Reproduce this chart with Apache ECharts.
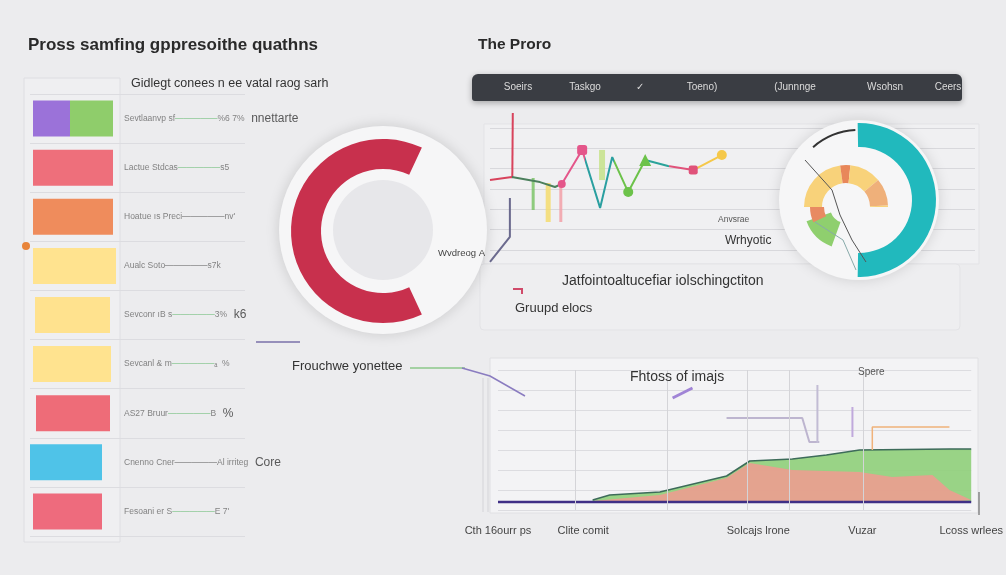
<!DOCTYPE html>
<html><head><meta charset="utf-8">
<script src="https://cdn.jsdelivr.net/npm/echarts@6/dist/echarts.min.js"></script>
<style>html,body{margin:0;padding:0;background:#ececee}#c{width:1006px;height:575px}</style>
</head><body><div id="c"></div>
<script>
// ---------- left: horizontal bars ----------
const barRows = ['r1','r2','r3','r4','r5','r6','r7','r8','r9'];
const barOffsets = [3,3,3,3,5,3,6,0,3];
const barPrimary = [37,80,80,83,75,78,74,72,69];
const barSecondary = [43,0,0,0,0,0,0,0,0];
const barColors = ['#9b72d9','#ee6f7b','#ef8c5c','#ffe38f','#ffe28e','#ffe38f','#ee6c78','#4fc3e8','#ee6b7d'];
const barSecondaryColor = '#8fcd6b';
const rowLabelA = ['Sevtlaanvp sf','Lactue Stdcas','Hoatue ıs Preci','Aualc Soto','Sevconr ıB s','Sevcanl & m','AS27 Bruur','Cnenno Cner','Fesoani er S'];
const rowLabelB = ['%6 7%','s5',"nv'",'s7k','3%','ₐ  %','B','Al irriteg',"E 7'"];
const rowLabelC = ['nnettarte','','','','k6','','%','Core',''];
const rowLineKind = ['g','g','d','d','g','g','g','d','g'];

// ---------- top right: line chart ----------
const lineX = [0,4.5,10.3,13.4,14.8,19.0,22.7,25.2,28.5,32.0,36.7,41.9,47.8];
const lineY = [34.4,35.9,33.4,31,32.5,49.2,20.7,45.7,28.5,44.3,41.3,39.3,46.7];
const lineMarker = ['none','none','none','none','circle','roundRect','none','none','circle','triangle','none','roundRect','circle'];
const lineMarkerSize = [0,0,0,0,8,10,0,0,10,12,0,9,10];
const lineBreaks = [4.6,14,19.5,25.5,32.5,37,42];
const lineColors = ['#d8435c','#4b7f5c','#e4568a','#2a9fa0','#6cc24a','#2aa39a','#e0527a','#f5c84a'];
const spikeX = [4.6,4.7], spikeY = [35.9,67.4];
const stickX = [8.9,12,14.6,23.1];
const stickTop = [35.4,33,32,49.2];
const stickBottom = [19.7,13.8,13.8,34.4];
const stickColors = ['#7cc46a','#f5dc6e','#f2a0a8','#c6e28a'];
const stickWidths = [3,5,3,6];
const purpleX = [4.1,4.1,0], purpleY = [25.6,6.4,-5.9];

// ---------- bottom right: area chart ----------
const areaLabels = ['Cth 16ourr ps','Clite comit','Solcajs lrone','Vuzar','Lcoss wrlees'];
const areaLabelPos = [0,18,55,77,100];
const greenX = [20,23.6,34.2,48.3,53.2,62.2,69.4,76.4,95.4,100];
const greenY = [5,7.5,9,17,24.5,25.5,27.5,30,30.5,30.5];
const redX = [20,34.2,48.3,53.2,62.2,76.4,83.3,91.8,95.4,100];
const redY = [4.5,7.5,16,23.5,20,19,16.5,17.5,10,5];
const baseX = [0,100], baseY = [4,4];
const vLines = [16.4,35.7,52.7,61.6,77.2];
const bracketX = [48.3,64.3,65.8,67.9], bracketY = [46,46,34,34];
const postX = [67.5,67.5], postY = [62.5,33.5];
const lilacX = [74.9,74.9], lilacY = [51.5,36.5];
const orangeX = [79.1,79.1,95.4], orangeY = [30,41.5,41.5];
const dashX = [36.9,41.1], dashY = [56,61];

// ---------- donuts ----------
const leftRing = [230,130];       // red arc degrees, gap
const tealRing = [182,178];
const yellowRing = [82,14,44,38,2,180];
const yellowColors = ['#f8d27a','#e8875a','#f8d27a','#efb07a','#f8d27a','rgba(0,0,0,0)'];
const greenPatch = [50,310];
const orangePatch = [25,335];
const darkArc = [38,322];

const T = 'rgba(0,0,0,0)';
const FONT = 'Liberation Sans, Arial, sans-serif';

const series = [];
// bars
series.push({type:'bar',xAxisIndex:0,yAxisIndex:0,stack:'r',silent:true,barWidth:36,itemStyle:{color:T},data:barOffsets});
series.push({type:'bar',xAxisIndex:0,yAxisIndex:0,stack:'r',silent:true,barWidth:36,
  data:barPrimary.map((v,i)=>({value:v,itemStyle:{color:barColors[i]}}))});
series.push({type:'bar',xAxisIndex:0,yAxisIndex:0,stack:'r',silent:true,barWidth:36,itemStyle:{color:barSecondaryColor},data:barSecondary});
series.push({type:'scatter',xAxisIndex:0,yAxisIndex:0,silent:true,symbolSize:0,
  data:barRows.map((r,i)=>[94,i]),
  label:{show:true,position:'right',distance:0,fontFamily:FONT,
    formatter:(p)=>{const i=p.dataIndex;return `{s|${rowLabelA[i]}}{${rowLineKind[i]}|—————}{s|${rowLabelB[i]}}` + (rowLabelC[i]?`  {b|${rowLabelC[i]}}`:'');},
    rich:{s:{fontSize:8.5,color:'#666',fontFamily:FONT},g:{fontSize:8.5,color:'#5fb86a',fontFamily:FONT},d:{fontSize:8.5,color:'#555',fontFamily:FONT},b:{fontSize:12,color:'#333',fontFamily:FONT}}}});

// top line chart
series.push({type:'line',xAxisIndex:1,yAxisIndex:1,silent:true,clip:false,symbol:'none',lineStyle:{width:2,color:'#6b6a8e'},
  data:purpleX.map((x,i)=>[x,purpleY[i]])});
stickX.forEach((x,i)=>{
  series.push({type:'line',xAxisIndex:1,yAxisIndex:1,silent:true,symbol:'none',lineStyle:{width:stickWidths[i],color:stickColors[i],opacity:0.85},
    data:[[x,stickTop[i]],[x,stickBottom[i]]]});
});
series.push({type:'line',xAxisIndex:1,yAxisIndex:1,silent:true,clip:false,symbol:'none',lineStyle:{width:2,color:'#d8435c'},
  data:spikeX.map((x,i)=>[x,spikeY[i]])});
const mainIdx = series.length;
series.push({type:'line',xAxisIndex:1,yAxisIndex:1,silent:true,clip:false,showSymbol:true,lineStyle:{width:2},
  data:lineX.map((x,i)=>({value:[x,lineY[i]],symbol:lineMarker[i],symbolSize:lineMarkerSize[i]}))});

// bottom area chart
series.push({type:'line',xAxisIndex:2,yAxisIndex:2,silent:true,symbol:'none',
  lineStyle:{width:1.5,color:'#3d6b5a'},areaStyle:{color:'#8fcf7a',opacity:0.9,origin:4},
  data:greenX.map((x,i)=>[x,greenY[i]])});
series.push({type:'line',xAxisIndex:2,yAxisIndex:2,silent:true,symbol:'none',
  lineStyle:{width:0},areaStyle:{color:'#f19a90',opacity:0.85,origin:4},
  data:redX.map((x,i)=>[x,redY[i]])});
series.push({type:'line',xAxisIndex:2,yAxisIndex:2,silent:true,symbol:'none',lineStyle:{width:2.5,color:'#3f2f86'},
  data:baseX.map((x,i)=>[x,baseY[i]]),
  markLine:{silent:true,symbol:'none',label:{show:false},lineStyle:{color:'#d4d4d8',type:'solid',width:1},
    data:vLines.map(v=>({xAxis:v}))}});
series.push({type:'line',xAxisIndex:2,yAxisIndex:2,silent:true,symbol:'none',lineStyle:{width:2,color:'#bdb5cf'},data:bracketX.map((x,i)=>[x,bracketY[i]])});
series.push({type:'line',xAxisIndex:2,yAxisIndex:2,silent:true,symbol:'none',lineStyle:{width:2,color:'#c2bcd4'},data:postX.map((x,i)=>[x,postY[i]])});
series.push({type:'line',xAxisIndex:2,yAxisIndex:2,silent:true,symbol:'none',lineStyle:{width:2,color:'#c0a9dc'},data:lilacX.map((x,i)=>[x,lilacY[i]])});
series.push({type:'line',xAxisIndex:2,yAxisIndex:2,silent:true,symbol:'none',lineStyle:{width:1.5,color:'#f0b27a'},data:orangeX.map((x,i)=>[x,orangeY[i]])});
series.push({type:'line',xAxisIndex:2,yAxisIndex:2,silent:true,symbol:'none',lineStyle:{width:3,color:'#a084d6'},data:dashX.map((x,i)=>[x,dashY[i]])});

// donuts
const pieBase = {type:'pie',silent:true,label:{show:false},labelLine:{show:false},emphasis:{disabled:true}};
series.push(Object.assign({},pieBase,{center:[383,230],radius:[0,104],itemStyle:{color:'#f6f6f7',shadowBlur:14,shadowColor:'rgba(0,0,0,0.15)'},data:[1]}));
series.push(Object.assign({},pieBase,{center:[383,230],radius:[0,50],itemStyle:{color:'#e7e7ea'},data:[1]}));
series.push(Object.assign({},pieBase,{center:[383,231],radius:[62,92],startAngle:65,clockwise:false,
  data:leftRing.map((v,i)=>({value:v,itemStyle:{color:i===0?'#c8304d':T}}))}));
series.push(Object.assign({},pieBase,{center:[859,200],radius:[0,80],itemStyle:{color:'#f6f6f7',shadowBlur:14,shadowColor:'rgba(0,0,0,0.13)'},data:[1]}));
series.push(Object.assign({},pieBase,{center:[859,200],radius:[53,77],startAngle:91,clockwise:true,
  data:tealRing.map((v,i)=>({value:v,itemStyle:{color:i===0?'#21b9bd':T}}))}));
series.push(Object.assign({},pieBase,{center:[859,200],radius:[69,71],startAngle:131,clockwise:true,
  data:darkArc.map((v,i)=>({value:v,itemStyle:{color:i===0?'#333':T}}))}));
series.push(Object.assign({},pieBase,{center:[846,207],radius:[24,42],startAngle:180,clockwise:true,
  data:yellowRing.map((v,i)=>({value:v,itemStyle:{color:yellowColors[i]}}))}));
series.push(Object.assign({},pieBase,{center:[846,207],radius:[16,42],startAngle:250,clockwise:true,
  data:greenPatch.map((v,i)=>({value:v,itemStyle:{color:i===0?'#8fcf6e':T}}))}));
series.push(Object.assign({},pieBase,{center:[846,207],radius:[22,36],startAngle:205,clockwise:true,
  data:orangePatch.map((v,i)=>({value:v,itemStyle:{color:i===0?'#e88a62':T}}))}));

const txt = (x,y,text,size,opts)=>Object.assign({type:'text',x,y,z:100,style:Object.assign({text,fontSize:size,fontFamily:FONT,fill:'#333',textVerticalAlign:'middle'},opts||{})});
const ln = (pts,color,w)=>({type:'polyline',z:50,shape:{points:pts},style:{stroke:color,lineWidth:w||1.5,fill:null}});
const tabNames = ['Soeirs','Taskgo','✓','Toeno)','(Junnnge','Wsohsn','Ceers'];
const tabPos = [518,585,640,702,795,885,948];

const graphic = [
  {type:'rect',z:0,shape:{x:24,y:78,width:96,height:464},style:{fill:'#efeff1',stroke:'#dedee2'}},
  {type:'rect',z:0,shape:{x:484,y:124,width:495,height:140},style:{fill:'#f0f0f2',stroke:'#e3e3e6'}},
  {type:'rect',z:0,shape:{x:480,y:264,width:480,height:66,r:4},style:{fill:'#eeeef0',stroke:'#e3e3e6'}},
  {type:'rect',z:0,shape:{x:490,y:358,width:488,height:155},style:{fill:'#f3f3f5',stroke:'#e0e0e3'}},
  {type:'rect',z:60,shape:{x:472,y:74,width:490,height:27,r:[6,6,3,3]},style:{fill:'#3a3d43',shadowBlur:6,shadowColor:'rgba(0,0,0,0.3)',shadowOffsetY:2}},
  txt(28,45,'Pross samfing gppresoithe quathns',17,{fontWeight:'bold',fill:'#2a2a2a'}),
  txt(131,84,'Gidlegt conees n ee vatal raog sarh',12.5),
  txt(438,253,'Wvdreog A',9.5,{fill:'#444'}),
  txt(292,366,'Frouchwe yonettee',13),
  txt(478,45,'The Proro',15.5,{fontWeight:'bold',fill:'#2a2a2a'}),
  txt(718,220,'Anvsrae',8.5,{fill:'#555'}),
  txt(725,241,'Wrhyotic',12),
  txt(562,281,'Jatfointoaltucefiar iolschingctiton',14),
  txt(515,308,'Gruupd elocs',13),
  txt(630,377,'Fhtoss of imajs',14),
  txt(858,372,'Spere',10,{fill:'#555'}),
  ...tabNames.map((n,i)=>txt(tabPos[i],87,n,10,{fill:'#dcdcdc',textAlign:'center'})),
  ln([[256,342],[300,342]],'#7a70a8'),
  ln([[410,368],[465,368]],'#8cc98a'),
  ln([[462,368],[490,376],[525,396]],'#8a7cc0'),
  ln([[513,289],[522,289],[522,294]],'#d04a6a',2),
  ln([[483,378],[483,512]],'#d4d4d8',1),
  ln([[488,378],[488,512]],'#d4d4d8',1),
  ln([[979,492],[979,515]],'#555',1),
  ln([[805,160],[832,190],[840,215],[852,240],[866,262]],'#555',1),
  ln([[815,222],[843,240],[856,270]],'#8aa',1),
  {type:'circle',z:60,shape:{cx:26,cy:246,r:4},style:{fill:'#e8843a'}}
];

const option = {
  backgroundColor:'#ececee',
  animation:false,
  grid:[
    {left:30,top:94,width:215,height:442},
    {left:490,top:128,width:485,height:122},
    {left:498,top:370,width:474,height:140}
  ],
  xAxis:[
    {gridIndex:0,type:'value',min:0,max:215,show:false},
    {gridIndex:1,type:'value',min:0,max:100,show:false},
    {gridIndex:2,type:'value',min:0,max:100,axisLine:{show:false},axisTick:{show:false},splitLine:{show:false},
      axisLabel:{customValues:areaLabelPos,showMinLabel:true,showMaxLabel:true,margin:15,color:'#444',fontSize:11,fontFamily:FONT,
        formatter:(v)=>areaLabels[areaLabelPos.indexOf(v)]||''}}
  ],
  yAxis:[
    {gridIndex:0,type:'category',data:barRows,inverse:true,axisLine:{show:false},axisTick:{show:false},axisLabel:{show:false},
      splitLine:{show:true,lineStyle:{color:'#dcdce0'}}},
    {gridIndex:1,type:'value',min:0,max:60,interval:10,axisLine:{show:false},axisTick:{show:false},axisLabel:{show:false},
      splitLine:{lineStyle:{color:'#d8d8dc'}}},
    {gridIndex:2,type:'value',min:0,max:70,interval:10,axisLine:{show:false},axisTick:{show:false},axisLabel:{show:false},
      splitLine:{lineStyle:{color:'#dcdce0'}}}
  ],
  visualMap:{show:false,type:'piecewise',seriesIndex:mainIdx,dimension:0,
    pieces:lineColors.map((c,i)=>{const p={color:c};if(i>0)p.gte=lineBreaks[i-1];if(i<lineBreaks.length)p.lt=lineBreaks[i];return p;})},
  graphic,
  series
};
const chart = echarts.init(document.getElementById('c'));
chart.setOption(option);
</script></body></html>
